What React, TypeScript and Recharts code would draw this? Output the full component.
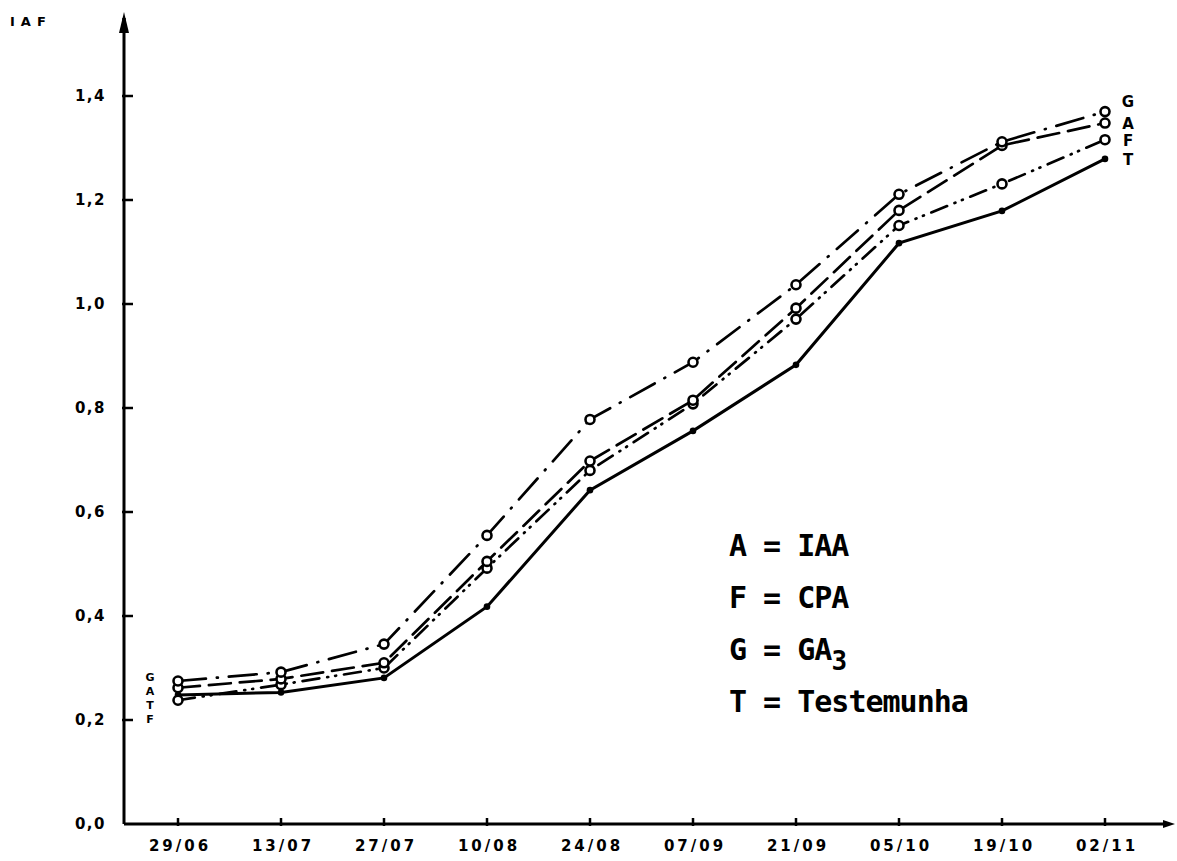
import React from 'react';
import { LineChart, Line, XAxis, YAxis } from 'recharts';

const categories = ['29/06', '13/07', '27/07', '10/08', '24/08', '07/09', '21/09', '05/10', '19/10', '02/11'];
const seriesG = [0.275, 0.292, 0.346, 0.555, 0.778, 0.888, 1.037, 1.211, 1.312, 1.370];
const seriesA = [0.262, 0.279, 0.310, 0.505, 0.698, 0.815, 0.992, 1.180, 1.305, 1.348];
const seriesF = [0.238, 0.268, 0.300, 0.492, 0.680, 0.808, 0.971, 1.151, 1.231, 1.316];
const seriesT = [0.248, 0.253, 0.281, 0.418, 0.642, 0.756, 0.883, 1.117, 1.179, 1.279];
const yTicks = [0, 0.2, 0.4, 0.6, 0.8, 1.0, 1.2, 1.4];
const yTickLabels = ['0,0', '0,2', '0,4', '0,6', '0,8', '1,0', '1,2', '1,4'];
const legendRows = [
  { key: 'A', name: 'IAA' },
  { key: 'F', name: 'CPA' },
  { key: 'G', name: 'GA', sub: '3' },
  { key: 'T', name: 'Testemunha' },
];

const data = categories.map((c, i) => ({
  cat: c,
  G: seriesG[i],
  A: seriesA[i],
  F: seriesF[i],
  T: seriesT[i],
}));

const BOLD = '"DejaVu Sans", sans-serif';

const startLabelDy: Record<string, number> = { G: 0, A: 7, T: 14, F: 23 };
const endLabelDy: Record<string, number> = { G: -5, A: 6, F: 6, T: 6 };

const makeLabel = (key: string) => (props: any) => {
  const { x, y, index } = props;
  if (index === 0) {
    return (
      <text key={`s${key}`} x={x - 28} y={y + startLabelDy[key]} textAnchor="middle" fontFamily={BOLD} fontWeight="bold" fontSize={11} fill="#000">
        {key}
      </text>
    );
  }
  if (index === categories.length - 1) {
    return (
      <text key={`e${key}`} x={x + 23} y={y + endLabelDy[key]} textAnchor="middle" fontFamily={BOLD} fontWeight="bold" fontSize={15} fill="#000">
        {key}
      </text>
    );
  }
  return <g key={`n${key}${index}`} />;
};

const openDot = (props: any) => {
  const { cx, cy, index } = props;
  return <circle key={index} cx={cx} cy={cy} r={4.5} fill="#fff" stroke="#000" strokeWidth={2.6} />;
};
const fillDot = (props: any) => {
  const { cx, cy, index } = props;
  return <circle key={index} cx={cx} cy={cy} r={3.3} fill="#000" stroke="none" />;
};

const XTick = (props: any) => {
  const { x, y, payload } = props;
  return (
    <g>
      <line x1={x} y1={y} x2={x} y2={y - 8} stroke="#000" strokeWidth={2.5} />
      <text x={x + 2} y={y + 25} textAnchor="middle" fontFamily={BOLD} fontWeight="bold" fontSize={15} letterSpacing={3} fill="#000">
        {payload.value}
      </text>
    </g>
  );
};

const YTick = (props: any) => {
  const { x, y, payload, index } = props;
  return (
    <g>
      {payload.value !== 0 && <line x1={x} y1={y} x2={x + 11} y2={y} stroke="#000" strokeWidth={2.5} />}
      <text x={x - 16} y={y + 5} textAnchor="end" fontFamily={BOLD} fontWeight="bold" fontSize={15} letterSpacing={1.5} fill="#000">
        {yTickLabels[yTicks.indexOf(payload.value)] ?? index}
      </text>
    </g>
  );
};

export default function App() {
  return (
    <div style={{ position: 'absolute', left: 0, top: 0, width: 1177, height: 861, background: '#fff' }}>
      <LineChart width={1177} height={861} data={data} margin={{ top: 18, right: 9, bottom: 0, left: 0 }}>
        <XAxis
          dataKey="cat"
          height={37}
          padding={{ left: 54, right: 63 }}
          axisLine={{ stroke: '#000', strokeWidth: 3 }}
          tickLine={false}
          tickSize={0}
          tick={<XTick />}
          interval={0}
        />
        <YAxis
          width={124}
          type="number"
          domain={[0, 1.55]}
          ticks={yTicks}
          axisLine={{ stroke: '#000', strokeWidth: 3 }}
          tickLine={false}
          tickSize={0}
          tick={<YTick />}
          interval={0}
        />
        <Line dataKey="T" type="linear" stroke="#000" strokeWidth={3} dot={fillDot} activeDot={false} isAnimationActive={false} label={makeLabel('T')} />
        <Line dataKey="F" type="linear" stroke="#000" strokeWidth={2.7} strokeDasharray="17 8 1 7 1 8" strokeLinecap="round" dot={openDot} activeDot={false} isAnimationActive={false} label={makeLabel('F')} />
        <Line dataKey="A" type="linear" stroke="#000" strokeWidth={2.7} strokeDasharray="22 9" strokeLinecap="round" dot={openDot} activeDot={false} isAnimationActive={false} label={makeLabel('A')} />
        <Line dataKey="G" type="linear" stroke="#000" strokeWidth={2.7} strokeDasharray="28 11 1 11" strokeLinecap="round" dot={openDot} activeDot={false} isAnimationActive={false} label={makeLabel('G')} />
      </LineChart>
      <svg width={1177} height={861} style={{ position: 'absolute', left: 0, top: 0, pointerEvents: 'none' }}>
        <line x1={124} y1={30} x2={124} y2={18} stroke="#000" strokeWidth={3} />
        <polygon points="124,12 119,33 129,33" fill="#000" />
        <polygon points="1175,824 1163,820 1163,828" fill="#000" />
        <text x={10} y={26} fontFamily={BOLD} fontWeight="bold" fontSize={13} letterSpacing={6} fill="#000">IAF</text>
        {legendRows.map((r, i) => (
          <text key={r.key} x={729} y={556 + i * 52} fontFamily='"DejaVu Sans Mono", monospace' fontWeight="bold" fontSize={30} letterSpacing={-1} fill="#000">
            {`${r.key} = ${r.name}`}
            {r.sub && (
              <tspan dy={10} fontSize={26}>{r.sub}</tspan>
            )}
          </text>
        ))}
      </svg>
    </div>
  );
}
